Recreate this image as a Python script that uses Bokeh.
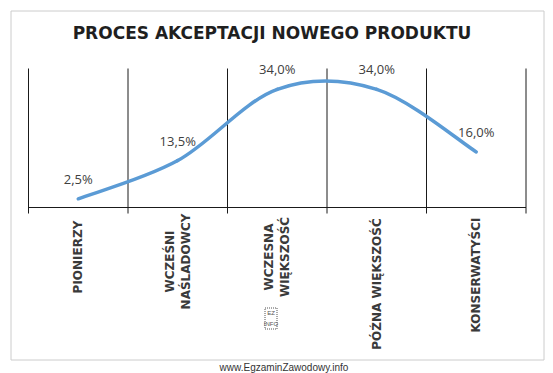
import numpy as np
from bokeh.plotting import figure
from bokeh.models import Range1d
from bokeh.core.properties import value
from bokeh.embed import file_html
from bokeh.resources import INLINE

# ---------------- data ----------------
title = "PROCES AKCEPTACJI NOWEGO PRODUKTU"
categories = ["PIONIERZY", "WCZEŚNI\nNAŚLADOWCY", "WCZESNA\nWIĘKSZOŚĆ",
              "PÓŹNA WIĘKSZOŚĆ", "KONSERWATYŚCI"]
shares = [2.5, 13.5, 34.0, 34.0, 16.0]          # percent
y_max = 40
watermark = "www.EgzaminZawodowy.info"

# ---------------- layout (pixels) ----------------
W, H = 553, 373
OX, OY = 28, 207              # px of left boundary / value 0
PX_CAT = 99.5                 # px per category
PX_PCT = 139.0 / y_max        # px per percent


def x_of(px):  # canvas px -> data x
    return (px - OX) / PX_CAT


def y_of(py):  # canvas px -> data y
    return (OY - py) / PX_PCT


p = figure(width=W, height=H,
           x_range=Range1d(x_of(0), x_of(W)),
           y_range=Range1d(y_of(H), y_of(0)),
           x_axis_type=None, y_axis_type=None,
           output_backend="svg", toolbar_location=None, min_border=0)
p.grid.visible = False
p.outline_line_color = None
p.background_fill_color = "white"
p.border_fill_color = "white"

# chart border
p.quad(left=[x_of(10.5)], right=[x_of(543.5)], top=[y_of(10.5)], bottom=[y_of(359.5)],
       fill_color=None, line_color="#cccccc", line_width=1)

n = len(categories)
bounds = np.arange(n + 1)
tick = 6 / PX_PCT
p.segment(x0=bounds, y0=-tick, x1=bounds, y1=y_max, line_color="#1a1a1a", line_width=1)
p.segment(x0=[0], y0=[0], x1=[n], y1=[0], line_color="#1a1a1a", line_width=1)

# smoothed line (Catmull-Rom style bezier through the data points)
xs = np.arange(n) + 0.5
ys = np.array(shares, dtype=float)
P = np.column_stack([xs, ys])
Pext = np.vstack([P[0], P, P[-1]])
x0, y0, x1, y1, cx0, cy0, cx1, cy1 = ([] for _ in range(8))
for i in range(n - 1):
    a, b = Pext[i + 1], Pext[i + 2]
    c1 = a + (Pext[i + 2] - Pext[i]) / 6
    c2 = b - (Pext[i + 3] - Pext[i + 1]) / 6
    x0.append(a[0]); y0.append(a[1]); x1.append(b[0]); y1.append(b[1])
    cx0.append(c1[0]); cy0.append(c1[1]); cx1.append(c2[0]); cy1.append(c2[1])
p.bezier(x0=x0, y0=y0, x1=x1, y1=y1, cx0=cx0, cy0=cy0, cx1=cx1, cy1=cy1,
         line_color="#5B9BD5", line_width=3.5, line_cap="round")

# data labels
labels = [f"{v:.1f}%".replace(".", ",") for v in shares]
p.text(x=xs, y=ys + 20 / PX_PCT, text=labels, text_align="center",
       text_baseline="middle", text_font=value("Open Sans"),
       text_font_size="13px", text_color="#404040")

# category labels (rotated)
fs = 12
cy = [-(9 + 0.75 * fs * max(len(s) for s in c.split("\n")) / 2) / PX_PCT for c in categories]
p.text(x=xs, y=cy, text=categories, angle=np.pi / 2, text_align="center",
       text_baseline="middle", text_font=value("DejaVu Sans"), text_font_style="bold",
       text_font_size=f"{fs}px", text_color="#3a3a3a", text_line_height=1.15)

# title
p.text(x=[x_of(271.5)], y=[y_of(32)], text=[title], text_align="center",
       text_baseline="middle", text_font=value("DejaVu Sans"), text_font_style="bold",
       text_font_size="17px", text_color="#1f1f1f")

# small EZ INFO mark
p.rect(x=[x_of(270.5)], y=[y_of(318)], width=[12 / PX_CAT], height=[21 / PX_PCT],
       fill_color=None, line_color="#555555", line_width=1, line_dash="1 1")
p.text(x=[x_of(270.5), x_of(270.5)], y=[y_of(312.5), y_of(323.5)], text=["EZ", "INFO"],
       text_align="center", text_baseline="middle", text_font=value("Liberation Sans"),
       text_font_size="6px", text_color="#555555")

# watermark
p.text(x=[x_of(283.5)], y=[y_of(366.5)], text=[watermark], text_align="center",
       text_baseline="middle", text_font=value("Liberation Sans"),
       text_font_size="10px", text_color="#333333")

open("out.html", "w").write(file_html(p, INLINE))
